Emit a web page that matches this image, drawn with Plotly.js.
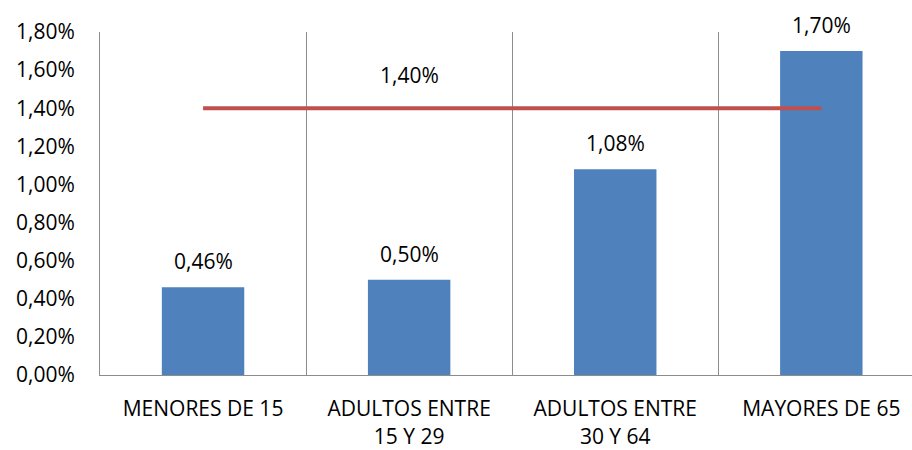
<!DOCTYPE html>
<html>
<head>
<meta charset="utf-8">
<script src="https://cdn.plot.ly/plotly-3.0.1.min.js"></script>
<style>html,body{margin:0;padding:0;background:#fff;}</style>
</head>
<body>
<div id="chart" style="width:912px;height:450px;"></div>
<script>
const categories = ["MENORES DE 15", "ADULTOS ENTRE<br>15 Y 29", "ADULTOS ENTRE<br>30 Y 64", "MAYORES DE 65"];
const barValues = [0.0046, 0.0050, 0.0108, 0.0170];
const avgValue = 0.0140;
const avgLine = [avgValue, avgValue, avgValue, avgValue];

function fmt(v) { return (v * 100).toFixed(2).replace('.', ',') + '%'; }

const FONT = '"Open Sans", sans-serif';
const FS = 21;

const traces = [
  {
    type: 'bar', x: categories, y: barValues,
    marker: {color: '#4F81BD'}, hoverinfo: 'none'
  },
  {
    type: 'scatter', mode: 'lines', x: categories, y: avgLine,
    line: {color: '#C0504D', width: 4}, hoverinfo: 'none'
  }
];

const annotations = barValues.map((v, i) => ({
  x: categories[i], y: v, xref: 'x', yref: 'y', text: fmt(v),
  showarrow: false, yanchor: 'middle', yshift: 26,
  font: {family: FONT, size: FS, color: '#000'}
}));
annotations.push({
  x: categories[1], y: avgValue, xref: 'x', yref: 'y', text: fmt(avgValue),
  showarrow: false, yanchor: 'middle', yshift: 33,
  font: {family: FONT, size: FS, color: '#000'}
});

const layout = {
  width: 912, height: 450,
  margin: {l: 100, r: 0, t: 32, b: 75},
  paper_bgcolor: '#fff', plot_bgcolor: '#fff',
  separators: ',.',
  showlegend: false,
  bargap: 0.6,
  font: {family: FONT, size: FS, color: '#000'},
  xaxis: {
    type: 'category', range: [-0.5, 3.44],
    tickson: 'boundaries', showgrid: true, gridcolor: '#8c8c8c', gridwidth: 1,
    showline: true, linecolor: '#8c8c8c', linewidth: 1,
    ticks: '', ticklabelstandoff: 15,
    tickfont: {family: FONT, size: FS, color: '#000'}
  },
  yaxis: {
    range: [0, 0.018], dtick: 0.002, tick0: 0, tickformat: '.2%',
    showgrid: false, zeroline: false,
    showline: true, linecolor: '#8c8c8c', linewidth: 1,
    ticks: '', ticklabelstandoff: 20,
    tickfont: {family: FONT, size: FS, color: '#000'}
  },
  annotations: annotations
};

Plotly.newPlot('chart', traces, layout, {displayModeBar: false, staticPlot: true});
</script>
</body>
</html>
